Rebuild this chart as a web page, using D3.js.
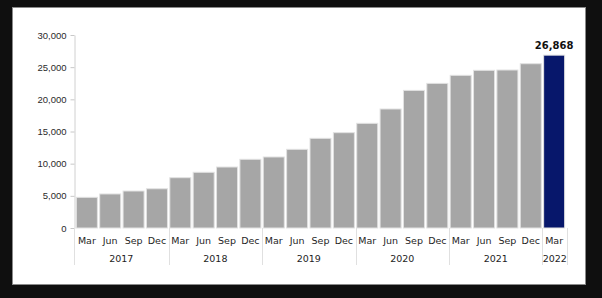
<!DOCTYPE html>
<html>
<head>
<meta charset="utf-8">
<script src="https://cdn.jsdelivr.net/npm/d3@7.9.0/dist/d3.min.js"></script>
<style>
  body { margin: 0; background: #0f0f0f; }
  svg { display: block; font-family: "DejaVu Sans", Verdana, sans-serif; }
</style>
</head>
<body>
<svg width="602" height="298"></svg>
<script>
// quarterly values, Mar 2017 .. Mar 2022
const years = [2017, 2018, 2019, 2020, 2021, 2022];
const months = ['Mar', 'Jun', 'Sep', 'Dec'];
const values = [4770, 5290, 5750, 6100, 7820, 8660, 9480, 10680, 11040, 12230, 13940, 14820,
                16270, 18500, 21390, 22480, 23730, 24510, 24560, 25540, 26868];
const yTicks = [0, 5000, 10000, 15000, 20000, 25000, 30000];

const periods = values.map((v, i) => ({
    year: years[Math.floor(i / 4)],
    month: months[i % 4],
    value: v,
    idx: i
}));

const svg = d3.select('svg');

// white panel
svg.append('rect')
   .attr('x', 12.5).attr('y', 7.5)
   .attr('width', 573).attr('height', 277)
   .attr('fill', '#fff')
   .attr('stroke', '#8a8a8a');

const x = d3.scaleBand()
    .domain(periods.map(d => d.idx))
    .range([74, 567])
    .paddingInner(0.1)
    .paddingOuter(0.1);

const y = d3.scaleLinear().domain([0, 30000]).range([228, 35]);

// y axis
const yAxis = svg.append('g')
    .attr('transform', 'translate(74.5,0)')
    .call(d3.axisLeft(y).tickValues(yTicks).tickFormat(d3.format(',')).tickSizeInner(4).tickSizeOuter(0).tickPadding(4));
yAxis.select('.domain').attr('stroke', '#d0d0d0');
yAxis.selectAll('.tick line').attr('stroke', '#c8c8c8');
yAxis.selectAll('.tick text')
     .attr('fill', '#2a2a2a')
     .style('font-size', '9.5px');

// bars
svg.append('g').selectAll('rect')
   .data(periods)
   .join('rect')
   .attr('x', d => x(d.idx))
   .attr('y', d => y(d.value))
   .attr('width', x.bandwidth())
   .attr('height', d => y(0) - y(d.value))
   .attr('fill', (d, i) => i === periods.length - 1 ? '#07176b' : '#a6a6a6')
   .attr('stroke', '#e2e2e2')
   .attr('stroke-width', 1);

// value label on last bar
const last = periods[periods.length - 1];
svg.append('text')
   .attr('x', x(last.idx) + x.bandwidth() / 2)
   .attr('y', y(last.value) - 6)
   .attr('text-anchor', 'middle')
   .attr('fill', '#111')
   .style('font-size', '10px')
   .style('font-weight', 'bold')
   .text(d3.format(',')(last.value));

// month labels
svg.append('g').selectAll('text')
   .data(periods)
   .join('text')
   .attr('x', d => x(d.idx) + x.bandwidth() / 2)
   .attr('y', 244)
   .attr('text-anchor', 'middle')
   .attr('fill', '#1e1e1e')
   .style('font-size', '9.5px')
   .text(d => d.month);

// year groups
const step = x.step();
const groups = years.map(yr => {
    const items = periods.filter(p => p.year === yr);
    const x0 = x(items[0].idx) - step * x.paddingInner() / 2;
    const x1 = x(items[items.length - 1].idx) + x.bandwidth() + step * x.paddingInner() / 2;
    return { year: yr, x0, x1 };
});
groups[0].x0 = 74;
groups[groups.length - 1].x1 = 567;

const bounds = [groups[0].x0].concat(groups.map(g => g.x1));
svg.append('g').selectAll('line')
   .data(bounds)
   .join('line')
   .attr('x1', d => Math.round(d) + 0.5).attr('x2', d => Math.round(d) + 0.5)
   .attr('y1', 228).attr('y2', 265)
   .attr('stroke', '#e0e0e0');

svg.append('g').selectAll('text')
   .data(groups)
   .join('text')
   .attr('x', d => (d.x0 + d.x1) / 2)
   .attr('y', 262)
   .attr('text-anchor', 'middle')
   .attr('fill', '#1e1e1e')
   .style('font-size', '9.5px')
   .text(d => d.year);
</script>
</body>
</html>
